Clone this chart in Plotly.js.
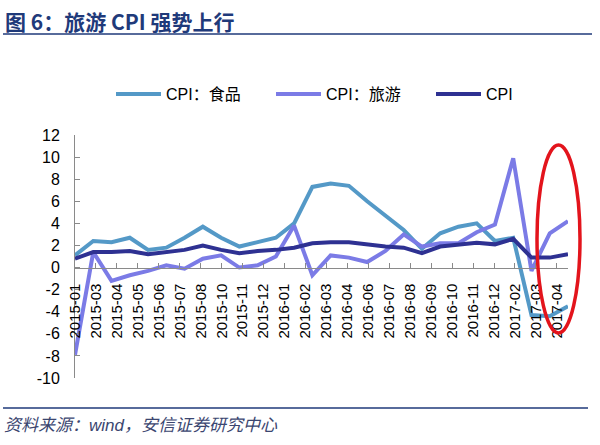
<!DOCTYPE html>
<html>
<head>
<meta charset="utf-8">
<script src="https://cdn.plot.ly/plotly-3.0.1.min.js"></script>
<style>
  html, body { margin: 0; padding: 0; background: #fff; }
  #chart { width: 600px; height: 445px; }
</style>
</head>
<body>
<div id="chart"></div>
<script>
// monthly points 2015-01 .. 2017-04
const months = [
  '2015-01','2015-02','2015-03','2015-04','2015-05','2015-06','2015-07',
  '2015-08','2015-09','2015-10','2015-11','2015-12','2016-01','2016-02',
  '2016-03','2016-04','2016-05','2016-06','2016-07','2016-08','2016-09',
  '2016-10','2016-11','2016-12','2017-01','2017-02','2017-03','2017-04'
];
const foodCPI = [
  1.1, 2.4, 2.3, 2.7, 1.6, 1.8, 2.7, 3.7, 2.7, 1.9, 2.3, 2.7, 4.0, 7.3,
  7.6, 7.4, 6.0, 4.7, 3.4, 1.7, 3.1, 3.7, 4.0, 2.4, 2.7, -4.3, -4.4, -3.5
];
const tourismCPI = [
  -7.9, 1.4, -1.2, -0.7, -0.3, 0.2, -0.1, 0.8, 1.1, 0.0, 0.2, 1.0, 3.8, -0.7,
  1.1, 0.9, 0.5, 1.5, 3.0, 1.9, 2.2, 2.2, 3.2, 3.9, 9.9, -0.3, 3.1, 4.2
];
const headlineCPI = [
  0.8, 1.4, 1.4, 1.5, 1.2, 1.4, 1.6, 2.0, 1.6, 1.3, 1.5, 1.6, 1.8, 2.2,
  2.3, 2.3, 2.1, 1.9, 1.8, 1.3, 1.9, 2.1, 2.25, 2.1, 2.6, 0.9, 0.9, 1.2
];
const seriesNames = ['CPI：食品', 'CPI：旅游', 'CPI'];
const seriesColors = ['#5499c7', '#7b7be6', '#2e3192'];

// the category labels printed under the zero line
const axisLabels = [
  '2015-01','2015-03','2015-04','2015-05','2015-06','2015-07','2015-08',
  '2015-10','2015-11','2015-12','2016-01','2016-02','2016-03','2016-04',
  '2016-06','2016-07','2016-08','2016-09','2016-10','2016-11','2016-12',
  '2017-02','2017-03','2017-04'
];
const yTicks = [-10, -8, -6, -4, -2, 0, 2, 4, 6, 8, 10, 12];

const titleText = '图 6：旅游 CPI 强势上行';
const sourceText = '资料来源：wind，安信证券研究中心';

const FONT = 'Liberation Sans, Arial, Noto Sans CJK SC, sans-serif';
const NAVY = '#1f3a7a';
const AXIS = '#8a8a8a';

const series = [foodCPI, tourismCPI, headlineCPI];
const traces = series.map((vals, i) => ({
  x: months,
  y: vals,
  type: 'scatter',
  mode: 'lines',
  name: seriesNames[i],
  line: {color: seriesColors[i], width: 4},
  hoverinfo: 'x+y+name'
}));

// invisible trace so the label axis knows its categories
traces.push({
  x: axisLabels,
  y: axisLabels.map(() => null),
  xaxis: 'x2',
  yaxis: 'y',
  type: 'scatter',
  mode: 'lines',
  showlegend: false,
  hoverinfo: 'skip'
});

const yMin = yTicks[0], yMax = yTicks[yTicks.length - 1];

// plot box in pixels, used to place the decorations outside it
const L = 75, T = 135, W = 493, H = 243;
const px = x => (x - L) / W;
const py = y => (T + H - y) / H;

const layout = {
  width: 600,
  height: 445,
  margin: {l: L, r: 600 - L - W, t: T, b: 445 - T - H},
  paper_bgcolor: '#ffffff',
  plot_bgcolor: '#ffffff',
  font: {family: FONT, color: '#000'},
  showlegend: true,
  legend: {
    orientation: 'h',
    xref: 'container', yref: 'container',
    x: 0.185, xanchor: 'left',
    y: (445 - 94) / 445, yanchor: 'middle',
    entrywidth: 100, entrywidthmode: 'pixels',
    itemwidth: 45,
    font: {size: 16, family: FONT}
  },
  xaxis: {
    type: 'category',
    categoryorder: 'array',
    categoryarray: months,
    range: [0, months.length - 1],
    visible: false,
    showgrid: false,
    zeroline: false
  },
  xaxis2: {
    type: 'category',
    categoryorder: 'array',
    categoryarray: axisLabels,
    overlaying: 'x',
    anchor: 'free',
    position: (0 - yMin) / (yMax - yMin),
    side: 'bottom',
    range: [0, 23.53],
    showline: true, linecolor: AXIS, linewidth: 1,
    ticks: 'inside', ticklen: 5, tickcolor: AXIS,
    tickangle: -90,
    tickfont: {size: 15, family: FONT, color: '#000'},
    ticklabelstandoff: 9,
    showgrid: false, zeroline: false
  },
  yaxis: {
    range: [yMin, yMax],
    tickmode: 'array',
    tickvals: yTicks,
    ticktext: yTicks.map(String),
    showline: true, linecolor: AXIS, linewidth: 1,
    ticks: 'inside', ticklen: 5, tickcolor: AXIS,
    tickfont: {size: 16, family: FONT, color: '#000'},
    ticklabelstandoff: 11,
    showgrid: false, zeroline: false
  },
  shapes: [
    // title underline
    {type: 'line', xref: 'paper', yref: 'paper', x0: px(3), x1: px(592),
     y0: py(34), y1: py(34), line: {color: NAVY, width: 1.5}},
    // footer rule
    {type: 'line', xref: 'paper', yref: 'paper', x0: px(3), x1: px(588),
     y0: py(408), y1: py(408), line: {color: NAVY, width: 1.5}},
    // red highlight ellipse
    {type: 'circle', xref: 'paper', yref: 'paper', x0: px(537), x1: px(580),
     y0: py(333), y1: py(145), line: {color: '#e3141c', width: 3.5}}
  ],
  annotations: [
    {text: '<b>' + titleText + '</b>', xref: 'paper', yref: 'paper',
     x: px(3), y: py(21), xanchor: 'left', yanchor: 'middle',
     showarrow: false, font: {size: 21, color: NAVY, family: 'Noto Sans CJK SC, Liberation Sans, sans-serif'}},
    {text: '<i>' + sourceText + '</i>', xref: 'paper', yref: 'paper',
     x: px(2), y: py(425), xanchor: 'left', yanchor: 'middle',
     showarrow: false, font: {size: 17, color: '#3b4670', family: FONT}}
  ]
};

Plotly.newPlot('chart', traces, layout, {displayModeBar: false, staticPlot: true});
</script>
</body>
</html>
